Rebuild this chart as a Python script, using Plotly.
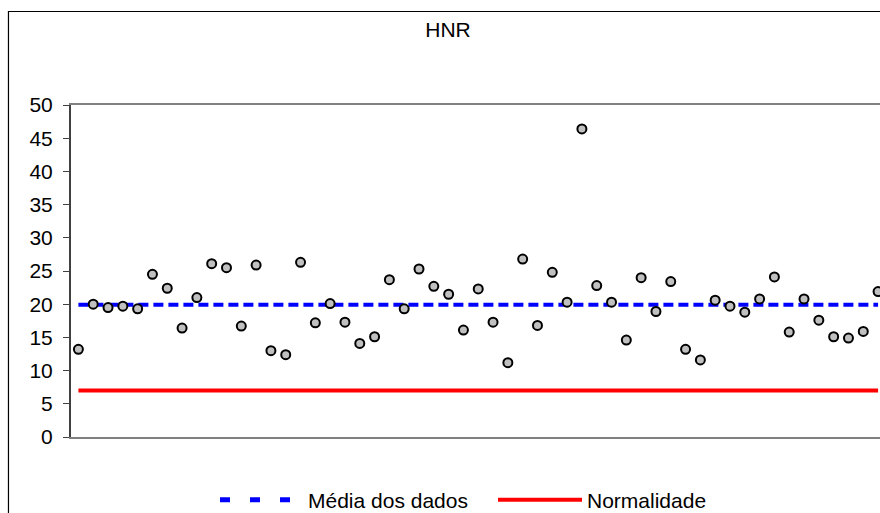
import plotly.graph_objects as go

# ---- data ----
amostras = list(range(1, 56))
hnr = [13.2, 20.0, 19.5, 19.7, 19.3, 24.5, 22.4, 16.4, 21.0, 26.1,
       25.5, 16.7, 25.9, 13.0, 12.4, 26.3, 17.2, 20.1, 17.3, 14.1,
       15.1, 23.7, 19.3, 25.3, 22.7, 21.5, 16.1, 22.3, 17.3, 11.2,
       26.8, 16.8, 24.8, 20.3, 46.4, 22.8, 20.3, 14.6, 24.0, 18.9,
       23.4, 13.2, 11.6, 20.6, 19.7, 18.8, 20.8, 24.1, 15.8, 20.8,
       17.6, 15.1, 14.9, 15.9, 21.9]
media_dos_dados = 19.9
normalidade = 7.0
y_ticks = [0, 5, 10, 15, 20, 25, 30, 35, 40, 45, 50]

FONT = "Liberation Sans, Arial, sans-serif"
FS = 21

fig = go.Figure()

# reference lines (drawn in the plot)
fig.add_trace(go.Scatter(
    x=[amostras[0], amostras[-1]], y=[media_dos_dados, media_dos_dados],
    mode="lines", name="Média dos dados", showlegend=False,
    line=dict(color="#0000FF", width=4, dash="10px,5px"),
    hoverinfo="skip"))

fig.add_trace(go.Scatter(
    x=[amostras[0], amostras[-1]], y=[normalidade, normalidade],
    mode="lines", name="Normalidade", showlegend=False,
    line=dict(color="#FF0000", width=4),
    hoverinfo="skip"))

fig.add_trace(go.Scatter(
    x=amostras, y=hnr, mode="markers", name="HNR", showlegend=False,
    marker=dict(size=9, color="#C0C0C0", line=dict(color="#000000", width=2)),
    cliponaxis=False))

# legend entries (styled like the reference legend)
fig.add_trace(go.Scatter(
    x=[None], y=[None], mode="lines", name="Média dos dados",
    line=dict(color="#0000FF", width=5, dash="10px,20px"), legend="legend"))
fig.add_trace(go.Scatter(
    x=[None], y=[None], mode="lines", name="Normalidade",
    line=dict(color="#FF0000", width=4), legend="legend2"))

fig.update_layout(
    width=880, height=513,
    margin=dict(l=71, r=0, t=105, b=76),
    paper_bgcolor="white", plot_bgcolor="white",
    font=dict(family=FONT, size=FS, color="black"),
    title=dict(text="HNR", x=448/880, xref="container", xanchor="center",
               y=1 - 30/513, yref="container", yanchor="middle",
               font=dict(family=FONT, size=FS, color="black")),
    xaxis=dict(range=[0.5, 55.13], showticklabels=False, ticks="",
               showgrid=False, zeroline=False,
               showline=True, mirror=True, linecolor="#808080", linewidth=2),
    yaxis=dict(range=[0, 50], tickvals=y_ticks, ticks="outside", ticklen=6,
               tickcolor="#404040", tickwidth=1, showgrid=False, zeroline=False,
               showline=True, linecolor="#404040", linewidth=2,
               ticklabelstandoff=6,
               tickfont=dict(family=FONT, size=FS, color="black")),
    legend=dict(orientation="h", xref="container", yref="container",
                x=215/880, xanchor="left", y=13/513, yanchor="middle",
                itemwidth=83, font=dict(family=FONT, size=FS, color="black"),
                bgcolor="rgba(0,0,0,0)"),
    legend2=dict(orientation="h", xref="container", yref="container",
                 x=493/880, xanchor="left", y=13/513, yanchor="middle",
                 itemwidth=84, font=dict(family=FONT, size=FS, color="black"),
                 bgcolor="rgba(0,0,0,0)"),
    shapes=[dict(type="rect", xref="paper", yref="paper",
                 x0=-0.0773, x1=1.2, y0=-0.5, y1=1.2816,
                 line=dict(color="black", width=1.2), layer="below")],
)

fig.write_html("out.html")
